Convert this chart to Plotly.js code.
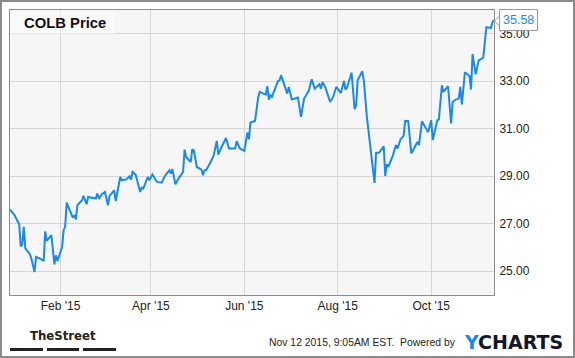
<!DOCTYPE html>
<html>
<head>
<meta charset="utf-8">
<script src="https://cdn.plot.ly/plotly-3.0.1.min.js"></script>
<style>
html,body{margin:0;padding:0;background:#fff;}
#chart{width:575px;height:358px;}
</style>
</head>
<body>
<div id="chart"></div>
<script>
const dates = [
"2014-12-30","2015-01-02","2015-01-05","2015-01-06","2015-01-07","2015-01-08","2015-01-09","2015-01-12","2015-01-13","2015-01-15",
"2015-01-16","2015-01-19","2015-01-21","2015-01-22","2015-01-23","2015-01-26","2015-01-28","2015-01-29","2015-01-30","2015-02-02",
"2015-02-03","2015-02-04","2015-02-05","2015-02-08","2015-02-09","2015-02-10","2015-02-11","2015-02-12","2015-02-15","2015-02-16",
"2015-02-18","2015-02-19","2015-02-22","2015-02-24","2015-02-25","2015-02-26","2015-02-28","2015-03-02","2015-03-04","2015-03-05",
"2015-03-08","2015-03-09","2015-03-12","2015-03-13","2015-03-16","2015-03-18","2015-03-19","2015-03-20","2015-03-22","2015-03-25",
"2015-03-26","2015-03-27","2015-03-30","2015-03-31","2015-04-02","2015-04-05","2015-04-08","2015-04-10","2015-04-13","2015-04-14",
"2015-04-15","2015-04-17","2015-04-19","2015-04-22","2015-04-23","2015-04-24","2015-04-27","2015-04-28","2015-04-29","2015-05-01",
"2015-05-04","2015-05-05","2015-05-06","2015-05-07","2015-05-10","2015-05-12","2015-05-14","2015-05-15","2015-05-17","2015-05-20",
"2015-05-22","2015-05-25","2015-05-26","2015-05-27","2015-05-29","2015-06-01","2015-06-03","2015-06-04","2015-06-05","2015-06-08",
"2015-06-10","2015-06-11","2015-06-13","2015-06-15","2015-06-16","2015-06-17","2015-06-18","2015-06-19","2015-06-23","2015-06-24",
"2015-06-25","2015-06-29","2015-06-30","2015-07-02","2015-07-06","2015-07-08","2015-07-10","2015-07-13","2015-07-15","2015-07-17",
"2015-07-20","2015-07-21","2015-07-22","2015-07-24","2015-07-27","2015-07-29","2015-07-31","2015-08-03","2015-08-05","2015-08-06",
"2015-08-07","2015-08-10","2015-08-12","2015-08-13","2015-08-14","2015-08-17","2015-08-18","2015-08-20","2015-08-25","2015-08-26",
"2015-08-28","2015-08-31","2015-09-01","2015-09-02","2015-09-03","2015-09-06","2015-09-08","2015-09-09","2015-09-11","2015-09-13",
"2015-09-14","2015-09-16","2015-09-18","2015-09-20","2015-09-22","2015-09-23","2015-09-25","2015-09-27","2015-09-29","2015-10-01",
"2015-10-02","2015-10-05","2015-10-06","2015-10-08","2015-10-09","2015-10-12","2015-10-14","2015-10-15","2015-10-17","2015-10-19",
"2015-10-20","2015-10-21","2015-10-23","2015-10-26","2015-10-27","2015-10-28","2015-10-30","2015-11-01","2015-11-04","2015-11-06",
"2015-11-09","2015-11-10","2015-11-11"
];
const prices = [
27.60,27.36,26.98,26.05,26.12,26.87,25.96,25.72,25.53,24.97,
25.60,25.52,25.43,26.68,26.28,26.52,25.29,25.67,25.43,26.02,
26.73,26.87,27.89,27.43,27.26,27.36,27.18,27.78,27.99,28.17,
27.82,28.13,28.09,28.06,28.27,28.06,28.24,28.34,27.78,28.17,
28.41,27.96,28.97,28.83,28.87,29.00,28.86,29.18,29.07,28.34,
28.52,28.48,28.97,28.83,29.07,28.76,28.73,29.00,29.25,29.11,
29.30,28.66,28.90,29.18,30.12,29.81,29.60,30.14,30.09,29.39,
29.28,29.04,29.25,29.25,29.60,29.88,30.49,29.91,30.21,30.61,
30.17,30.15,30.17,30.48,30.17,30.07,30.84,30.56,31.26,31.33,
32.31,32.55,32.51,32.44,32.79,32.23,32.41,32.34,33.01,33.04,
33.25,32.48,32.76,32.23,32.31,31.50,32.27,32.59,33.08,32.69,
32.87,32.69,32.97,32.72,32.13,32.34,32.76,32.50,33.01,32.65,
32.73,33.36,31.82,31.99,33.04,33.42,33.04,31.50,28.72,29.98,
30.00,30.26,29.01,29.51,29.39,29.88,30.31,30.17,30.56,30.70,
31.33,31.32,29.96,30.17,30.44,30.31,31.32,31.08,30.86,31.36,
30.52,31.36,31.39,32.83,32.55,32.79,31.22,32.13,32.23,32.27,
32.76,32.02,33.38,33.22,32.65,34.15,33.29,33.88,33.99,35.28,
35.24,35.49,35.58
];
const yTicks = [25, 27, 29, 31, 33, 35];
const titleText = "COLB Price";
const lastLabel = "35.58";

const lineColor = "#1a8ae8";
const font = "'Liberation Sans', Arial, sans-serif";

const trace = {
  x: dates, y: prices, type: "scatter", mode: "lines",
  line: {color: lineColor, width: 2}, hoverinfo: "skip"
};

const W = 575, H = 358, L = 10, R = 81, T = 10, B = 63;
const pw = W - L - R, ph = H - T - B;
function px(x){ return (x - L) / pw; }
function py(y){ return (H - B - y) / ph; }

const layout = {
  width: W, height: H,
  margin: {l: L, r: R, t: T, b: B, pad: 0},
  paper_bgcolor: "#ffffff",
  plot_bgcolor: "#f6f6f6",
  showlegend: false,
  font: {family: font, size: 12, color: "#222"},
  xaxis: {
    type: "date",
    range: [dates[0], dates[dates.length - 1]],
    tick0: "2015-02-01", dtick: "M2",
    tickformat: "%b '%y",
    showgrid: true, gridcolor: "#d6d6d6", gridwidth: 1,
    showline: true, linecolor: "#8c8c8c", linewidth: 1, mirror: true,
    ticks: "", zeroline: false,
    tickfont: {family: font, size: 12, color: "#222"}
  },
  yaxis: {
    side: "right",
    range: [24, 36],
    tickvals: yTicks,
    ticktext: yTicks.map(v => v.toFixed(2)),
    showgrid: true, gridcolor: "#d6d6d6", gridwidth: 1,
    showline: true, linecolor: "#8c8c8c", linewidth: 1, mirror: true,
    ticks: "", zeroline: false, ticklabelstandoff: 2,
    tickfont: {family: font, size: 12, color: "#222"}
  },
  shapes: [
    {type: "rect", xref: "paper", yref: "paper", x0: px(1), x1: px(574), y0: py(1), y1: py(357),
     line: {color: "#8a8a8a", width: 2}, fillcolor: "rgba(0,0,0,0)", layer: "below"},
    {type: "rect", xref: "paper", yref: "paper", x0: px(10.5), x1: px(115), y0: py(10.5), y1: py(34),
     line: {width: 0}, fillcolor: "rgba(255,255,255,0.45)", layer: "above"},
    {type: "rect", xref: "paper", yref: "paper", x0: px(10), x1: px(43), y0: py(348), y1: py(351),
     line: {width: 0}, fillcolor: "#222"},
    {type: "rect", xref: "paper", yref: "paper", x0: px(47), x1: px(79), y0: py(348), y1: py(351),
     line: {width: 0}, fillcolor: "#222"},
    {type: "rect", xref: "paper", yref: "paper", x0: px(83), x1: px(116), y0: py(348), y1: py(351),
     line: {width: 0}, fillcolor: "#222"},
    {type: "path", xref: "paper", yref: "paper",
     path: "M " + px(499.5) + " " + py(16) + " L " + px(494.5) + " " + py(21) + " L " + px(499.5) + " " + py(26),
     line: {color: "#999", width: 1}, fillcolor: "#ffffff"}
  ],
  annotations: [
    {xref: "paper", yref: "paper", x: px(21.5), y: py(23), xanchor: "left", yanchor: "middle",
     text: "<b>" + titleText + "</b>", showarrow: false, font: {family: font, size: 14.8, color: "#111"}},
    {xref: "x", yref: "y", x: dates[dates.length - 1], y: prices[prices.length - 1],
     xanchor: "left", yanchor: "middle", xshift: 5, text: lastLabel, showarrow: false,
     bgcolor: "#ffffff", bordercolor: "#999", borderwidth: 1, borderpad: 3,
     font: {family: font, size: 12.5, color: lineColor}},
    {xref: "paper", yref: "paper", x: px(63), y: py(335), xanchor: "center", yanchor: "middle",
     text: "<b>TheStreet</b>", showarrow: false,
     font: {family: "'DejaVu Sans Condensed', 'Liberation Sans Narrow', Arial, sans-serif", size: 13, color: "#222"}},
    {xref: "paper", yref: "paper", x: px(458), y: py(342), xanchor: "right", yanchor: "middle",
     text: "Nov 12 2015, 9:05AM EST.  Powered by", showarrow: false,
     font: {family: font, size: 10.4, color: "#222"}},
    {xref: "paper", yref: "paper", x: px(462), y: py(342), xanchor: "left", yanchor: "middle",
     text: "<b><span style='color:#1a8ae8'>Y</span>CHARTS</b>", showarrow: false,
     font: {family: "'DejaVu Sans', sans-serif", size: 19, color: "#15152a"}}
  ]
};

Plotly.newPlot("chart", [trace], layout, {staticPlot: true, displayModeBar: false});
</script>
</body>
</html>
